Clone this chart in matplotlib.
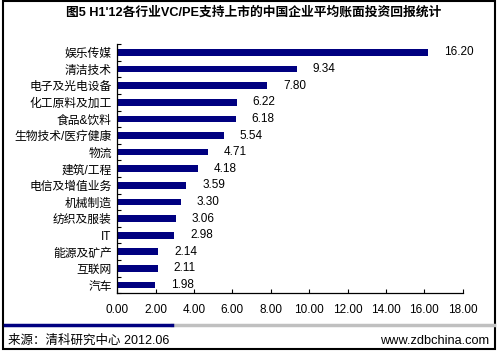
import matplotlib
matplotlib.use('Agg')
from matplotlib import pyplot as plt
from matplotlib.lines import Line2D
from matplotlib.patches import Rectangle

plt.rcParams['font.family'] = ['Liberation Sans', 'Noto Sans CJK SC', 'DejaVu Sans']

categories = ['娱乐传媒', '清洁技术', '电子及光电设备', '化工原料及加工', '食品&饮料',
              '生物技术/医疗健康', '物流', '建筑/工程', '电信及增值业务', '机械制造',
              '纺织及服装', 'IT', '能源及矿产', '互联网', '汽车']
values = [16.20, 9.34, 7.80, 6.22, 6.18, 5.54, 4.71, 4.18, 3.59, 3.30,
          3.06, 2.98, 2.14, 2.11, 1.98]
xticks = [0, 2, 4, 6, 8, 10, 12, 14, 16, 18]

title = "图5 H1'12各行业VC/PE支持上市的中国企业平均账面投资回报统计"
source = '来源：清科研究中心 2012.06'
site = 'www.zdbchina.com'

navy = '#000080'

fig = plt.figure(figsize=(5, 3.53), dpi=100)
ax = fig.add_axes([0.2346, 0.169, 0.6908, 0.706])

pos = list(range(len(categories)))
ax.barh(pos, values, height=0.4, color=navy)
for p, v in zip(pos, values):
    ax.annotate('%.2f' % v, (v, p), xytext=(11.5, 0), textcoords='offset points',
                va='center', ha='left', fontsize=8.5)

ax.set_ylim(len(categories) - 0.5, -0.5)
ax.set_xlim(0, 18)
ax.set_yticks(pos)
ax.set_yticklabels(categories, fontsize=8.5)
ax.set_yticks([i + 0.5 for i in range(-1, len(categories))], minor=True)
ax.tick_params(axis='y', which='major', length=0, pad=4)
ax.tick_params(axis='y', which='minor', direction='in', length=3, width=0.8)
ax.set_xticks(xticks)
ax.set_xticklabels(['%.2f' % t for t in xticks], fontsize=8.5)
ax.tick_params(axis='x', direction='in', length=3, width=0.8, pad=8)
for s in ['top', 'right']:
    ax.spines[s].set_visible(False)
for s in ['left', 'bottom']:
    ax.spines[s].set_linewidth(0.9)

# frame, title and footer
fig.patches.append(Rectangle((2.5 / 500, 1 - 349 / 353), 492 / 500, 348 / 353,
                             transform=fig.transFigure, fill=False,
                             edgecolor='black', linewidth=1.5))
fig.text(0.508, 1 - 12 / 353, title, ha='center', va='center',
         fontsize=9.2, fontweight='bold')
ly = 1 - 325 / 353
fig.lines.append(Line2D([172 / 500, 494 / 500], [ly, ly], transform=fig.transFigure,
                        color='#c0c0c0', linewidth=2.5))
fig.lines.append(Line2D([5 / 500, 172 / 500], [ly, ly], transform=fig.transFigure,
                        color=navy, linewidth=2.5))
fig.text(8 / 500, 1 - 341 / 353, source, ha='left', va='center', fontsize=9)
fig.text(489 / 500, 1 - 341 / 353, site, ha='right', va='center', fontsize=9.2)

fig.savefig('out.png', dpi=100)
